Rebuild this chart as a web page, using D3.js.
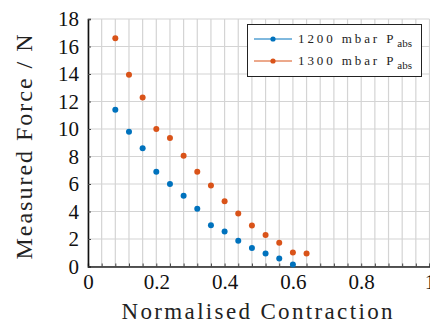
<!DOCTYPE html>
<html><head><meta charset="utf-8">
<script src="https://cdn.jsdelivr.net/npm/d3@7/dist/d3.min.js"></script>
</head><body style="margin:0;background:#fff">
<script>
const contraction = [0.08,0.12,0.16,0.20,0.24,0.28,0.32,0.36,0.40,0.44,0.48,0.52,0.56,0.60,0.64];
const force1200 = [11.4,9.8,8.6,6.9,6.0,5.15,4.2,3.0,2.55,1.87,1.34,0.95,0.58,0.15,null];
const force1300 = [16.6,13.95,12.3,10.0,9.35,8.05,6.9,5.9,4.74,3.86,2.99,2.29,1.73,1.02,0.95];
const seriesNames = ["1200 mbar P","1300 mbar P"];
const seriesSub = "abs";
const colors = ["#0072BD","#D95319"];
const xTicks = [0,0.2,0.4,0.6,0.8,1];
const xTickLabels = ["0","0.2","0.4","0.6","0.8","1"];
const yTicks = [0,2,4,6,8,10,12,14,16,18];

const W=430,H=329;
const svg=d3.select("body").append("svg").attr("width",W).attr("height",H).style("display","block");
const x=d3.scaleLinear().domain([0,1]).range([88,429.5]);
const y=d3.scaleLinear().domain([0,18]).range([266.5,19]);
const font='"Liberation Serif"';

// grid
const minor=d3.range(0,1.0001,0.04);
svg.append("g").selectAll("line").data(minor).join("line")
  .attr("x1",d=>x(d)).attr("x2",d=>x(d)).attr("y1",y(0)).attr("y2",y(18))
  .attr("stroke","#d4d4d4").attr("stroke-width",1.2);
svg.append("g").selectAll("line").data(yTicks).join("line")
  .attr("x1",x(0)).attr("x2",x(1)).attr("y1",d=>y(d)).attr("y2",d=>y(d))
  .attr("stroke","#d4d4d4").attr("stroke-width",1.2);

// axes
const gx=svg.append("g").attr("transform",`translate(0,${y(0)})`)
  .call(d3.axisBottom(x).tickValues(minor).tickSize(-3).tickFormat(""));
gx.select(".domain").attr("stroke","#222").attr("stroke-width",1.3);
gx.selectAll(".tick line").attr("stroke","#444");

const gxl=svg.append("g").attr("transform",`translate(0,${y(0)})`)
  .call(d3.axisBottom(x).tickValues(xTicks).tickSize(0).tickPadding(8).tickFormat((d,i)=>xTickLabels[i]));
gxl.select(".domain").remove();
gxl.selectAll("text").style("font-family",font).style("font-size","21px").style("fill","#111");

const gy=svg.append("g").attr("transform",`translate(${x(0)},0)`)
  .call(d3.axisLeft(y).tickValues(yTicks).tickSize(-3).tickPadding(9));
gy.select(".domain").attr("stroke","#111").attr("stroke-width",1.6);
gy.selectAll(".tick line").attr("stroke","#444");
gy.selectAll("text").style("font-family",font).style("font-size","21px").style("fill","#111");

// points
[force1200,force1300].forEach((s,k)=>{
  svg.append("g").selectAll("circle")
    .data(contraction.map((c,i)=>[c,s[i]]).filter(d=>d[1]!=null))
    .join("circle").attr("cx",d=>x(d[0])).attr("cy",d=>y(d[1])).attr("r",3)
    .attr("fill",colors[k]);
});

// titles
svg.append("text").attr("x",257).attr("y",319).attr("text-anchor","middle")
  .style("font-family",font).style("font-size","23px").style("fill","#222")
  .attr("textLength",271).attr("lengthAdjust","spacing").text("Normalised Contraction");
svg.append("text").attr("transform","translate(32,147) rotate(-90)").attr("text-anchor","middle")
  .style("font-family",font).style("font-size","24px").style("fill","#222")
  .attr("textLength",225).attr("lengthAdjust","spacing").text("Measured Force / N");

// legend
const lg=svg.append("g");
lg.append("rect").attr("x",247.5).attr("y",24.5).attr("width",174).attr("height",52)
  .attr("fill","#fff").attr("stroke","#222").attr("stroke-width",1);
[39,61].forEach((ly,k)=>{
  lg.append("line").attr("x1",254).attr("x2",292).attr("y1",ly).attr("y2",ly).attr("stroke",colors[k]).attr("stroke-width",1);
  lg.append("circle").attr("cx",273).attr("cy",ly).attr("r",2.6).attr("fill",colors[k]);
  const t=lg.append("text").attr("x",298).attr("y",ly+4).style("font-family",font).style("font-size","13px")
    .style("fill","#222").style("letter-spacing","2.9px");
  t.append("tspan").text(seriesNames[k]);
  t.append("tspan").attr("dy",4).attr("dx",1).style("font-size","11px").style("letter-spacing","0px").text(seriesSub);
});
</script>
</body></html>
